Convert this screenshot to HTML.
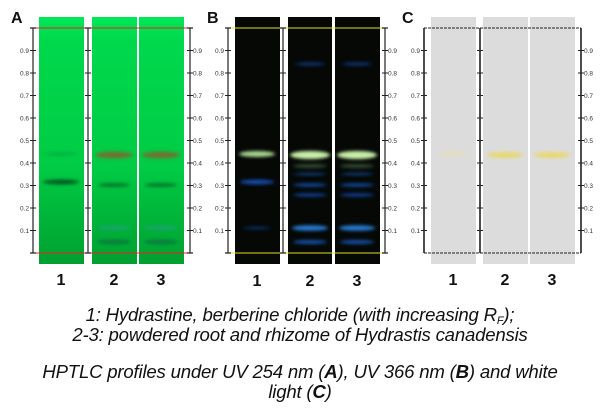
<!DOCTYPE html>
<html><head><meta charset="utf-8"><style>
body{margin:0;background:#fff;width:600px;height:415px;overflow:hidden}
svg{position:absolute;left:0;top:0}
.t{font-family:"Liberation Sans",sans-serif;font-style:italic;font-size:18.6px;fill:#111;text-anchor:middle;letter-spacing:-0.2px}
.n{font-family:"Liberation Sans",sans-serif;font-weight:bold;font-size:16px;fill:#111;text-anchor:middle}
.p{font-family:"Liberation Sans",sans-serif;font-weight:bold;font-size:16px;fill:#111}
.k{font-family:"Liberation Sans",sans-serif;font-size:6.5px;fill:#333}
</style></head><body>
<svg width="600" height="415" viewBox="0 0 600 415">
<defs>
<filter id="b" x="-30%" y="-200%" width="160%" height="500%"><feGaussianBlur stdDeviation="1.8 1.5"/></filter>
<linearGradient id="ga" x1="0" y1="0" x2="0" y2="1">
<stop offset="0" stop-color="#00e858"/><stop offset="0.1" stop-color="#00d84c"/><stop offset="0.6" stop-color="#00cc44"/><stop offset="1" stop-color="#00a030"/></linearGradient>
</defs>
<g>
<rect x="39" y="17" width="45" height="247" fill="url(#ga)"/>
<rect x="92" y="17" width="45" height="247" fill="url(#ga)"/>
<rect x="139" y="17" width="45" height="247" fill="url(#ga)"/>
<g filter="url(#b)">
<ellipse cx="61" cy="154" rx="17" ry="1.5" fill="#0a9a40" opacity=".6"/>
<ellipse cx="61" cy="182" rx="18" ry="2.5" fill="#035a20"/>
<ellipse cx="114" cy="155" rx="19" ry="3.5" fill="#7a6a30" opacity=".9"/>
<ellipse cx="161" cy="155" rx="19" ry="3.5" fill="#7a6a30" opacity=".9"/>
<ellipse cx="114" cy="185" rx="16" ry="1.8" fill="#06702a"/>
<ellipse cx="161" cy="185" rx="16" ry="1.8" fill="#06702a"/>
<ellipse cx="114" cy="228" rx="17" ry="2" fill="#20a080" opacity=".8"/>
<ellipse cx="161" cy="228" rx="17" ry="2" fill="#20a080" opacity=".8"/>
<ellipse cx="114" cy="242" rx="17" ry="2" fill="#087040" opacity=".9"/>
<ellipse cx="161" cy="242" rx="17" ry="2" fill="#087040" opacity=".9"/>
</g>
<line x1="33" y1="28" x2="190" y2="28" stroke="#f02020" stroke-width="1"/>
<line x1="33" y1="253" x2="190" y2="253" stroke="#f02020" stroke-width="1"/>
</g>
<g>
<rect x="235" y="17" width="45" height="247" fill="#050805"/>
<rect x="288" y="17" width="44" height="247" fill="#050805"/>
<rect x="335" y="17" width="45" height="247" fill="#050805"/>
<g filter="url(#b)">
<ellipse cx="310" cy="64" rx="15" ry="2" fill="#0a2a60"/>
<ellipse cx="357" cy="64" rx="15" ry="2" fill="#0a2a60"/>
<ellipse cx="257" cy="154" rx="18" ry="3" fill="#a8d890"/>
<ellipse cx="310" cy="155" rx="20" ry="4" fill="#c8f0a8"/>
<ellipse cx="357" cy="155" rx="20" ry="4" fill="#c8f0a8"/>
<ellipse cx="257" cy="182" rx="17" ry="2.5" fill="#1848a8"/>
<ellipse cx="310" cy="166" rx="17" ry="2" fill="#304830"/>
<ellipse cx="357" cy="166" rx="17" ry="2" fill="#304830"/>
<ellipse cx="310" cy="174" rx="16" ry="1.8" fill="#0c3060"/>
<ellipse cx="357" cy="174" rx="16" ry="1.8" fill="#0c3060"/>
<ellipse cx="310" cy="185" rx="17" ry="2" fill="#10408a"/>
<ellipse cx="357" cy="185" rx="17" ry="2" fill="#10408a"/>
<ellipse cx="310" cy="195" rx="17" ry="2" fill="#0c3880"/>
<ellipse cx="357" cy="195" rx="17" ry="2" fill="#0c3880"/>
<ellipse cx="257" cy="228" rx="14" ry="1.5" fill="#0c2a60"/>
<ellipse cx="310" cy="228" rx="18" ry="2.8" fill="#2878d0"/>
<ellipse cx="357" cy="228" rx="18" ry="2.8" fill="#2878d0"/>
<ellipse cx="310" cy="242" rx="17" ry="2" fill="#1850a8"/>
<ellipse cx="357" cy="242" rx="17" ry="2" fill="#1850a8"/>
</g>
<line x1="228" y1="28" x2="385" y2="28" stroke="#e8e020" stroke-width="1"/>
<line x1="228" y1="253" x2="385" y2="253" stroke="#e8e020" stroke-width="1"/>
</g>
<g>
<rect x="431" y="17" width="45" height="247" fill="#dcdcdc"/>
<rect x="483" y="17" width="45" height="247" fill="#dcdcdc"/>
<rect x="530" y="17" width="45" height="247" fill="#dcdcdc"/>
<g filter="url(#b)">
<ellipse cx="453" cy="154" rx="15" ry="1.5" fill="#e8e0b0"/>
<ellipse cx="505" cy="155" rx="18" ry="3" fill="#e8d870"/>
<ellipse cx="552" cy="155" rx="18" ry="3" fill="#e8d870"/>
</g>
<line x1="424" y1="28" x2="581" y2="28" stroke="#222" stroke-width="1" stroke-dasharray="3,1"/>
<line x1="424" y1="253" x2="581" y2="253" stroke="#222" stroke-width="1" stroke-dasharray="3,1"/>
</g>
<g stroke="#222" stroke-width="1.2" fill="none">
<path d="M30 28H36M33 28V253M30 253H36"/>
<path d="M85 28H91M88 28V253M85 253H91"/>
<path d="M187 28H193M190 28V253M187 253H193"/>
<path d="M225 28H231M228 28V253M225 253H231"/>
<path d="M280 28H286M283 28V253M280 253H286"/>
<path d="M382 28H388M385 28V253M382 253H388"/>
<path d="M424 28V253" stroke-width="1.6"/>
<path d="M480 28V253" stroke-width="1.6"/>
<path d="M581 28V253" stroke-width="1.6"/>
</g>
<g stroke="#222" stroke-width="1">
<path d="M30 50.5h6M30 73h6M30 95.5h6M30 118h6M30 140.5h6M30 163h6M30 185.5h6M30 208h6M30 230.5h6
M85 50.5h6M85 73h6M85 95.5h6M85 118h6M85 140.5h6M85 163h6M85 185.5h6M85 208h6M85 230.5h6
M187 50.5h6M187 73h6M187 95.5h6M187 118h6M187 140.5h6M187 163h6M187 185.5h6M187 208h6M187 230.5h6"/>
<path transform="translate(195,0)" d="M30 50.5h6M30 73h6M30 95.5h6M30 118h6M30 140.5h6M30 163h6M30 185.5h6M30 208h6M30 230.5h6
M85 50.5h6M85 73h6M85 95.5h6M85 118h6M85 140.5h6M85 163h6M85 185.5h6M85 208h6M85 230.5h6
M187 50.5h6M187 73h6M187 95.5h6M187 118h6M187 140.5h6M187 163h6M187 185.5h6M187 208h6M187 230.5h6"/>
<path transform="translate(391,0)" d="M30 50.5h6M30 73h6M30 95.5h6M30 118h6M30 140.5h6M30 163h6M30 185.5h6M30 208h6M30 230.5h6
M86 50.5h6M86 73h6M86 95.5h6M86 118h6M86 140.5h6M86 163h6M86 185.5h6M86 208h6M86 230.5h6
M187 50.5h6M187 73h6M187 95.5h6M187 118h6M187 140.5h6M187 163h6M187 185.5h6M187 208h6M187 230.5h6"/>
</g>
<g class="k">
<g text-anchor="end">
<text x="29" y="53">0.9</text><text x="29" y="75.5">0.8</text><text x="29" y="98">0.7</text><text x="29" y="120.5">0.6</text><text x="29" y="143">0.5</text><text x="29" y="165.5">0.4</text><text x="29" y="188">0.3</text><text x="29" y="210.5">0.2</text><text x="29" y="233">0.1</text>
<text x="224" y="53">0.9</text><text x="224" y="75.5">0.8</text><text x="224" y="98">0.7</text><text x="224" y="120.5">0.6</text><text x="224" y="143">0.5</text><text x="224" y="165.5">0.4</text><text x="224" y="188">0.3</text><text x="224" y="210.5">0.2</text><text x="224" y="233">0.1</text>
<text x="420" y="53">0.9</text><text x="420" y="75.5">0.8</text><text x="420" y="98">0.7</text><text x="420" y="120.5">0.6</text><text x="420" y="143">0.5</text><text x="420" y="165.5">0.4</text><text x="420" y="188">0.3</text><text x="420" y="210.5">0.2</text><text x="420" y="233">0.1</text>
</g>
<g>
<text x="193" y="53">0.9</text><text x="193" y="75.5">0.8</text><text x="193" y="98">0.7</text><text x="193" y="120.5">0.6</text><text x="193" y="143">0.5</text><text x="193" y="165.5">0.4</text><text x="193" y="188">0.3</text><text x="193" y="210.5">0.2</text><text x="193" y="233">0.1</text>
<text x="388" y="53">0.9</text><text x="388" y="75.5">0.8</text><text x="388" y="98">0.7</text><text x="388" y="120.5">0.6</text><text x="388" y="143">0.5</text><text x="388" y="165.5">0.4</text><text x="388" y="188">0.3</text><text x="388" y="210.5">0.2</text><text x="388" y="233">0.1</text>
<text x="584" y="53">0.9</text><text x="584" y="75.5">0.8</text><text x="584" y="98">0.7</text><text x="584" y="120.5">0.6</text><text x="584" y="143">0.5</text><text x="584" y="165.5">0.4</text><text x="584" y="188">0.3</text><text x="584" y="210.5">0.2</text><text x="584" y="233">0.1</text>
</g>
</g>
<text class="p" x="11" y="23">A</text>
<text class="p" x="207" y="23">B</text>
<text class="p" x="402" y="23">C</text>
<g class="n">
<text x="61" y="285">1</text><text x="114" y="285">2</text><text x="161" y="285">3</text>
<text x="257" y="286">1</text><text x="310" y="286">2</text><text x="357" y="286">3</text>
<text x="453" y="285">1</text><text x="505" y="285">2</text><text x="552" y="285">3</text>
</g>
<text class="t" x="300" y="321">1: Hydrastine, berberine chloride (with increasing R<tspan font-size="11" dy="3">F</tspan><tspan dy="-3">);</tspan></text>
<text class="t" x="300" y="341">2-3: powdered root and rhizome of Hydrastis canadensis</text>
<text class="t" x="300" y="378">HPTLC profiles under UV 254 nm (<tspan font-weight="bold">A</tspan>), UV 366 nm (<tspan font-weight="bold">B</tspan>) and white</text>
<text class="t" x="300" y="398">light (<tspan font-weight="bold">C</tspan>)</text>
</svg>
</body></html>
